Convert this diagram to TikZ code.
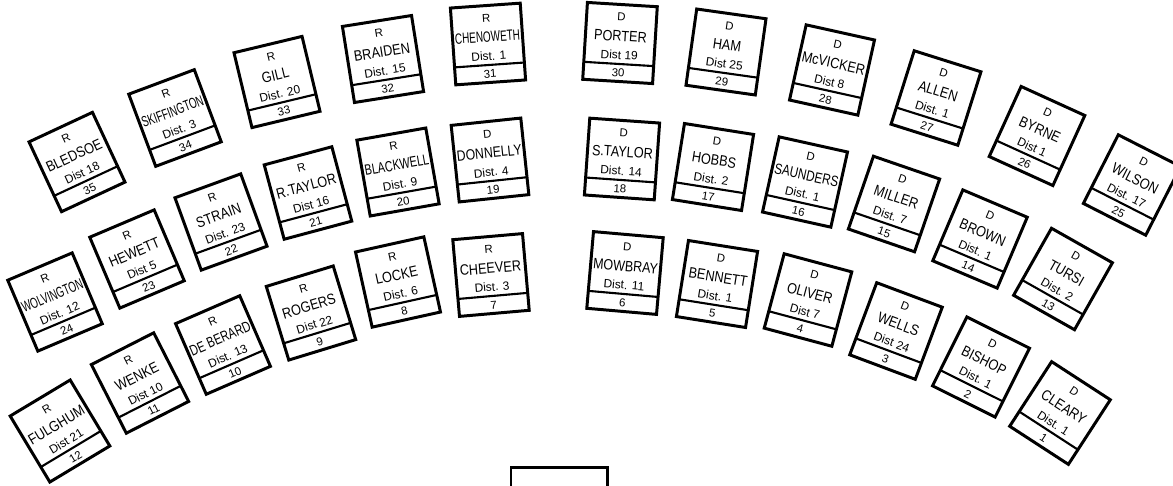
\documentclass[tikz,border=0pt]{standalone}
\usepackage{fontspec}
\setmainfont{Liberation Sans}
\usepackage{graphicx}

% squeeze long names into the desk
\newsavebox\namebox
\newcommand\fitname[1]{\sbox\namebox{\scalebox{0.85}[1]{#1}}%
  \ifdim\wd\namebox>1.3cm\resizebox{1.3cm}{\height}{\usebox\namebox}\else\usebox\namebox\fi}

\begin{document}
\begin{tikzpicture}[x=0.02cm, y=0.02cm,
    desk/.style={draw, line width=1.7pt, minimum width=1.4cm, minimum height=1.54cm, inner sep=0pt},
    divider/.style={line width=1.2pt},
    party/.style={inner sep=0pt, font=\fontsize{6.5}{7}\selectfont},
    member/.style={inner sep=0pt, font=\fontsize{8.5}{9}\selectfont},
    dist/.style={inner sep=0pt, font=\fontsize{6.8}{7}\selectfont},
    seatno/.style={inner sep=0pt, font=\fontsize{6.5}{7}\selectfont}]

  \useasboundingbox (0,0) rectangle (1173,485);

  %% ===== DESKS: seat / x / y (from top) / tilt / party / name / district =====
  \foreach \n/\px/\py/\ang/\pty/\who/\dst in {
      % outer row
      35/77/162/25/R/BLEDSOE/Dist 18,
      34/175/118/20.5/R/SKIFFINGTON/Dist. 3,
      33/277/82/13.5/R/GILL/Dist. 20,
      32/383/59/9/R/BRAIDEN/Dist. 15,
      31/488/44/4/R/CHENOWETH/Dist. 1,
      30/620/43/-3.5/D/PORTER/Dist 19,
      29/726/52/-8/D/HAM/Dist 25,
      28/832/70/-12.5/D/McVICKER/Dist 8,
      27/936/98/-17.5/D/ALLEN/Dist. 1,
      26/1037/136/-24.5/D/BYRNE/Dist 1,
      25/1132/185/-27/D/WILSON/Dist. 17,
      % middle row
      24/55/302/23/R/WOLVINGTON/Dist. 12,
      23/137/259/23/R/HEWETT/Dist 5,
      22/221/222/20/R/STRAIN/Dist. 23,
      21/308/193/15/R/R.TAYLOR/Dist 16,
      20/398/172/10/R/BLACKWELL/Dist. 9,
      19/490/160/6/D/DONNELLY/Dist. 4,
      18/622/159/-4/D/S.TAYLOR/Dist. 14,
      17/713/167/-9/D/HOBBS/Dist. 2,
      16/805/182/-12.5/D/SAUNDERS/Dist. 1,
      15/894/204/-19/D/MILLER/Dist. 7,
      14/980/239/-23/D/BROWN/Dist. 1,
      13/1063/279/-29.5/D/TURSI/Dist. 2,
      % inner row
      12/60/431/31/R/FULGHUM/Dist 21,
      11/140/383/27/R/WENKE/Dist 10,
      10/223/345/23.5/R/DE BERARD/Dist. 13,
      9/311/313/17/R/ROGERS/Dist 22,
      8/398/282/12.5/R/LOCKE/Dist. 6,
      7/491/275/5/R/CHEEVER/Dist. 3,
      6/625/273/-5/D/MOWBRAY/Dist. 11,
      5/717/284/-9/D/BENNETT/Dist. 1,
      4/808/300/-15/D/OLIVER/Dist 7,
      3/896/331/-20.5/D/WELLS/Dist 24,
      2/981/367/-26.5/D/BISHOP/Dist. 1,
      1/1060/413/-33/D/CLEARY/Dist. 1}{
    \begin{scope}[shift={(\px,485-\py)}, rotate=\ang, transform shape]
      \node[desk] (desk\n) at (0,0) {};
      \draw[divider] (-35,-21) -- (35,-21);
      \node[party]  (pty\n)  at (0,26)  {\pty};
      \node[member] (who\n)  at (0,7)   {\fitname{\who}};
      \node[dist]   (dst\n)  at (0,-12) {\dst};
      \node[seatno] (seat\n) at (0,-30) {\n};
    \end{scope}
  }

  % rostrum, cut off by the page edge
  \draw[line width=1.7pt] (511,18) rectangle (607,-20);

\end{tikzpicture}
\end{document}
